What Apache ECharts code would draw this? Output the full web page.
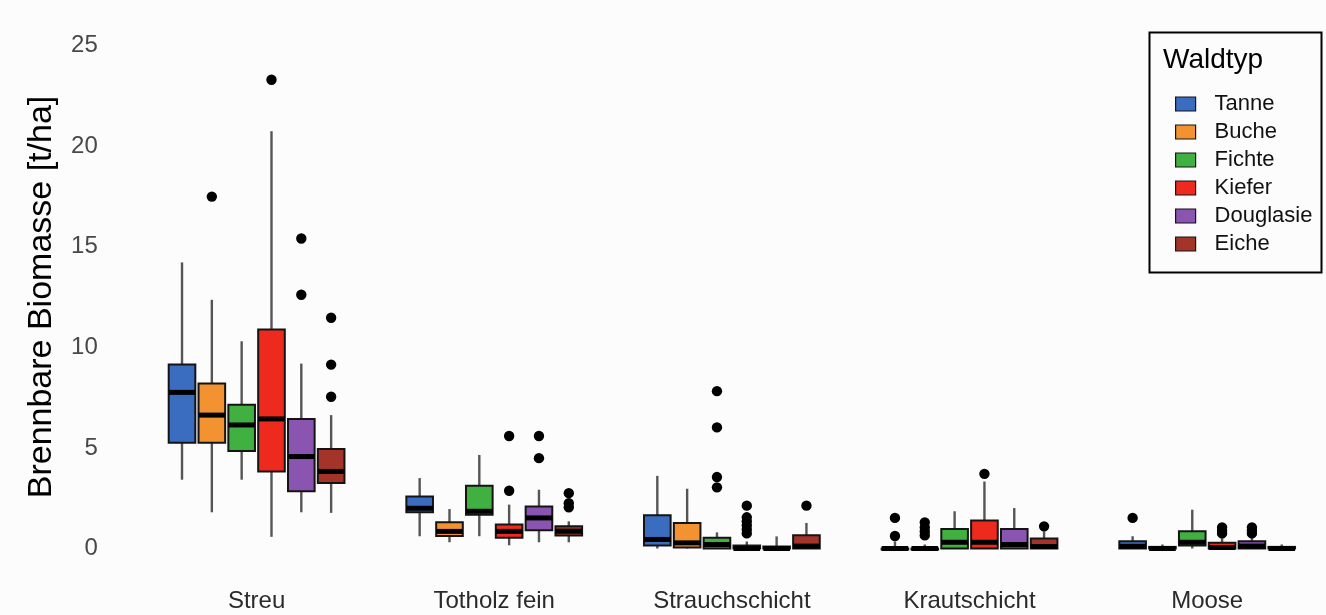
<!DOCTYPE html>
<html>
<head>
<meta charset="utf-8">
<script src="https://cdn.jsdelivr.net/npm/echarts@6/dist/echarts.min.js"></script>
<style>html,body{margin:0;padding:0;background:#fcfcfc}#c{width:1326px;height:615px}</style>
</head>
<body>
<div id="c"></div>
<script>
// ---- data ----
const categories = ['Streu', 'Totholz fein', 'Strauchschicht', 'Krautschicht', 'Moose'];
const waldtypen = ['Tanne', 'Buche', 'Fichte', 'Kiefer', 'Douglasie', 'Eiche'];
const yTicks = [0, 5, 10, 15, 20, 25];

// box stats per category: [lower whisker, Q1, median, Q3, upper whisker]
const tanneBox = [[3.42, 5.26, 7.76, 9.14, 14.22], [0.61, 1.80, 2.00, 2.59, 3.50], [0, 0.15, 0.45, 1.65, 3.61], [0, 0, 0, 0, 0.35], [0, 0, 0.11, 0.36, 0.61]];
const bucheBox = [[1.80, 5.26, 6.63, 8.20, 12.36], [0.31, 0.62, 0.85, 1.30, 1.96], [0, 0.05, 0.28, 1.27, 2.97], [0, 0, 0, 0, 0.2], [0, 0, 0, 0.08, 0.2]];
const fichteBox = [[3.42, 4.85, 6.14, 7.14, 10.30], [0.61, 1.68, 1.85, 3.12, 4.65], [0, 0, 0.2, 0.53, 0.8], [0, 0, 0.31, 0.97, 1.85], [0, 0.15, 0.31, 0.86, 1.93]];
const kieferBox = [[0.58, 3.83, 6.44, 10.89, 20.74], [0.16, 0.53, 0.85, 1.19, 2.18], [0, 0, 0, 0.15, 0.35], [0, 0, 0.31, 1.39, 3.33], [0, 0, 0.05, 0.28, 0.55]];
const douglasieBox = [[1.80, 2.84, 4.57, 6.44, 9.19], [0.31, 0.91, 1.52, 2.09, 2.92], [0, 0, 0, 0.1, 0.6], [0, 0, 0.2, 0.97, 2.01], [0, 0, 0.12, 0.36, 0.55]];
const eicheBox = [[1.77, 3.25, 3.83, 4.95, 6.63], [0.31, 0.64, 0.86, 1.10, 1.35], [0, 0, 0.12, 0.66, 1.27], [0, 0, 0.1, 0.5, 0.85], [0, 0, 0, 0.08, 0.2]];

// outliers per category
const tanneOut = [[], [], [], [1.52, 0.62], [1.52]];
const bucheOut = [[17.49], [], [], [1.3, 1.05, 0.85, 0.65], []];
const fichteOut = [[], [], [7.82, 6.02, 3.55, 3.04], [], []];
const kieferOut = [[23.30], [5.59, 2.87], [2.13, 1.55, 1.35, 1.15, 0.95, 0.75], [3.71], [1.05, 0.9, 0.75]];
const douglasieOut = [[15.41, 12.61], [5.59, 4.49], [], [], [1.05, 0.9, 0.75]];
const eicheOut = [[11.47, 9.14, 7.54], [2.75, 2.25, 2.05], [2.13], [1.1], []];

const boxes = [tanneBox, bucheBox, fichteBox, kieferBox, douglasieBox, eicheBox];
const outs = [tanneOut, bucheOut, fichteOut, kieferOut, douglasieOut, eicheOut];

// ---- styles ----
const colors = ['#3a6cc0', '#f39230', '#40b040', '#ee2a1e', '#8a55b0', '#a4342a'];
const FONT = '"Liberation Sans", Arial, sans-serif';
const OFFSET = 0.1255;
const BOXW = 0.112;

function boxRender(k) {
  return function (params, api) {
    const cat = api.value(0);
    const band = api.size([1, 0])[0];
    const xc = api.coord([cat, 0])[0] + (k - 2.5) * band * OFFSET;
    const w = band * BOXW;
    const yLow = api.coord([cat, api.value(1)])[1];
    const yQ1 = api.coord([cat, api.value(2)])[1];
    const yMed = api.coord([cat, api.value(3)])[1];
    const yQ3 = api.coord([cat, api.value(4)])[1];
    const yHigh = api.coord([cat, api.value(5)])[1];
    return {
      type: 'group',
      children: [
        { type: 'line', shape: { x1: xc, y1: yHigh, x2: xc, y2: yQ3 }, style: { stroke: '#555', lineWidth: 2.4 } },
        { type: 'line', shape: { x1: xc, y1: yQ1, x2: xc, y2: yLow }, style: { stroke: '#555', lineWidth: 2.4 } },
        { type: 'rect', shape: { x: xc - w / 2, y: yQ3, width: w, height: Math.max(yQ1 - yQ3, 1) }, style: { fill: colors[k], stroke: '#141414', lineWidth: 2 } },
        { type: 'line', shape: { x1: xc - w / 2, y1: yMed, x2: xc + w / 2, y2: yMed }, style: { stroke: '#000', lineWidth: 5 } }
      ]
    };
  };
}
function outRender(k) {
  return function (params, api) {
    const cat = api.value(0);
    const band = api.size([1, 0])[0];
    const xc = api.coord([cat, 0])[0] + (k - 2.5) * band * OFFSET;
    const y = api.coord([cat, api.value(1)])[1];
    return { type: 'circle', shape: { cx: xc, cy: y, r: 5.2 }, style: { fill: '#000' } };
  };
}

const series = [];
waldtypen.forEach(function (name, k) {
  series.push({
    name: name, type: 'custom', clip: false,
    itemStyle: { color: colors[k] },
    renderItem: boxRender(k),
    encode: { x: 0, y: [1, 2, 3, 4, 5] },
    data: boxes[k].map(function (b, i) { return [i].concat(b); }),
    z: 2
  });
  const od = [];
  outs[k].forEach(function (arr, i) { arr.forEach(function (v) { od.push([i, v]); }); });
  series.push({
    name: name, type: 'custom', clip: false,
    itemStyle: { color: colors[k] },
    renderItem: outRender(k),
    encode: { x: 0, y: 1 },
    data: od,
    z: 3
  });
});

const chart = echarts.init(document.getElementById('c'), null, { renderer: 'canvas' });
chart.setOption({
  backgroundColor: '#fcfcfc',
  animation: false,
  grid: { left: 137.75, right: -19.25, top: 45.5, bottom: 66.5, containLabel: false },
  xAxis: {
    type: 'category', data: categories, boundaryGap: true,
    axisLine: { show: false }, axisTick: { show: false }, splitLine: { show: false },
    axisLabel: { fontSize: 24, color: '#2a2a2a', fontFamily: FONT, margin: 41 }
  },
  yAxis: {
    type: 'value', min: yTicks[0], max: yTicks[yTicks.length - 1], interval: 5,
    axisLine: { show: false }, axisTick: { show: false }, splitLine: { show: false },
    axisLabel: { fontSize: 24, color: '#484848', fontFamily: FONT, margin: 40 },
    name: 'Brennbare Biomasse [t/ha]', nameLocation: 'middle', nameGap: 79,
    nameTextStyle: { fontSize: 34, color: '#000', fontFamily: FONT }
  },
  legend: {
    data: waldtypen, orient: 'vertical', left: 1170, top: 85,
    itemWidth: 20, itemHeight: 14, itemGap: 0, icon: 'rect',
    itemStyle: { borderColor: '#141414', borderWidth: 1.2 },
    textStyle: { fontSize: 22, color: '#111', fontFamily: FONT, lineHeight: 28, padding: [0, 0, 0, 14] }
  },
  graphic: [
    { type: 'rect', left: 1147, top: 30, shape: { width: 172, height: 240 }, style: { fill: 'none', stroke: '#000', lineWidth: 2 }, z: 10 },
    { type: 'text', left: 1163, top: 46, style: { text: 'Waldtyp', fontSize: 28, fill: '#000', fontFamily: FONT }, z: 10 }
  ],
  series: series
});
</script>
</body>
</html>
